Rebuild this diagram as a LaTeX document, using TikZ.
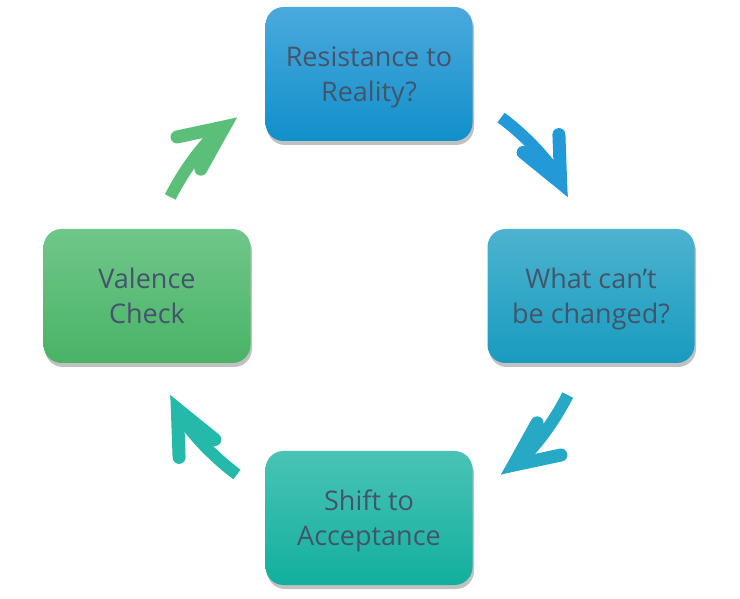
\documentclass[tikz,border=0pt]{standalone}
\usepackage{fontspec}
\setmainfont{Open Sans}
\usetikzlibrary{shadows,arrows.meta,calc}
\definecolor{txtgray}{HTML}{44546A}
\definecolor{resistTop}{HTML}{4BA9DC}
\definecolor{resistBot}{HTML}{1190CB}
\definecolor{changeTop}{HTML}{4DB3CF}
\definecolor{changeBot}{HTML}{189BBF}
\definecolor{shiftTop}{HTML}{4AC3B5}
\definecolor{shiftBot}{HTML}{12AF9E}
\definecolor{valenceTop}{HTML}{6FC78A}
\definecolor{valenceBot}{HTML}{49B366}
\definecolor{arrowA}{HTML}{2399D7}
\definecolor{arrowB}{HTML}{27A8C4}
\definecolor{arrowC}{HTML}{25B9A9}
\definecolor{arrowD}{HTML}{5BBF79}

\begin{document}
\begin{tikzpicture}[x=1pt,y=1pt]
\tikzstyle{stage}=[rectangle,rounded corners=18pt,minimum width=207pt,minimum height=134pt,align=center,text=txtgray,font=\fontsize{27}{35}\selectfont,text depth=0pt,drop shadow={shadow xshift=1.5pt,shadow yshift=-4pt,opacity=0.35,fill=black!70}]
\tikzstyle{turn}=[line width=12pt,-{Straight Barb[length=44pt,width=40pt,line width=13pt,line cap=round,line join=miter]},postaction={draw,line width=1pt,-{Stealth[length=40pt,width=32pt,inset=10pt]}}]
\useasboundingbox (0,0) rectangle (740,598);
\coordinate (c) at (369,302);
\node[stage,top color=resistTop,bottom color=resistBot] (resist) at (369,524) {Resistance to\\Reality?};
\node[stage,top color=changeTop,bottom color=changeBot] (change) at (591,302) {What can’t\\be changed?};
\node[stage,top color=shiftTop,bottom color=shiftBot] (shift) at (369,80) {Shift to\\Acceptance};
\node[stage,top color=valenceTop,bottom color=valenceBot] (valence) at (147,302) {Valence\\Check};
% arrows round the cycle
\coordinate (a1) at ($(c)+(53.5:222)$);
\coordinate (a2) at ($(c)+(-26.5:222)$);
\coordinate (a3) at ($(c)+(-126.5:222)$);
\coordinate (a4) at ($(c)+(153.5:222)$);
\draw[turn,arrowA] (a1) arc[start angle=53.5,end angle=26.5,radius=222];
\draw[turn,arrowB] (a2) arc[start angle=-26.5,end angle=-53.5,radius=222];
\draw[turn,arrowC] (a3) arc[start angle=-126.5,end angle=-153.5,radius=222];
\draw[turn,arrowD] (a4) arc[start angle=153.5,end angle=126.5,radius=222];
\end{tikzpicture}
\end{document}
